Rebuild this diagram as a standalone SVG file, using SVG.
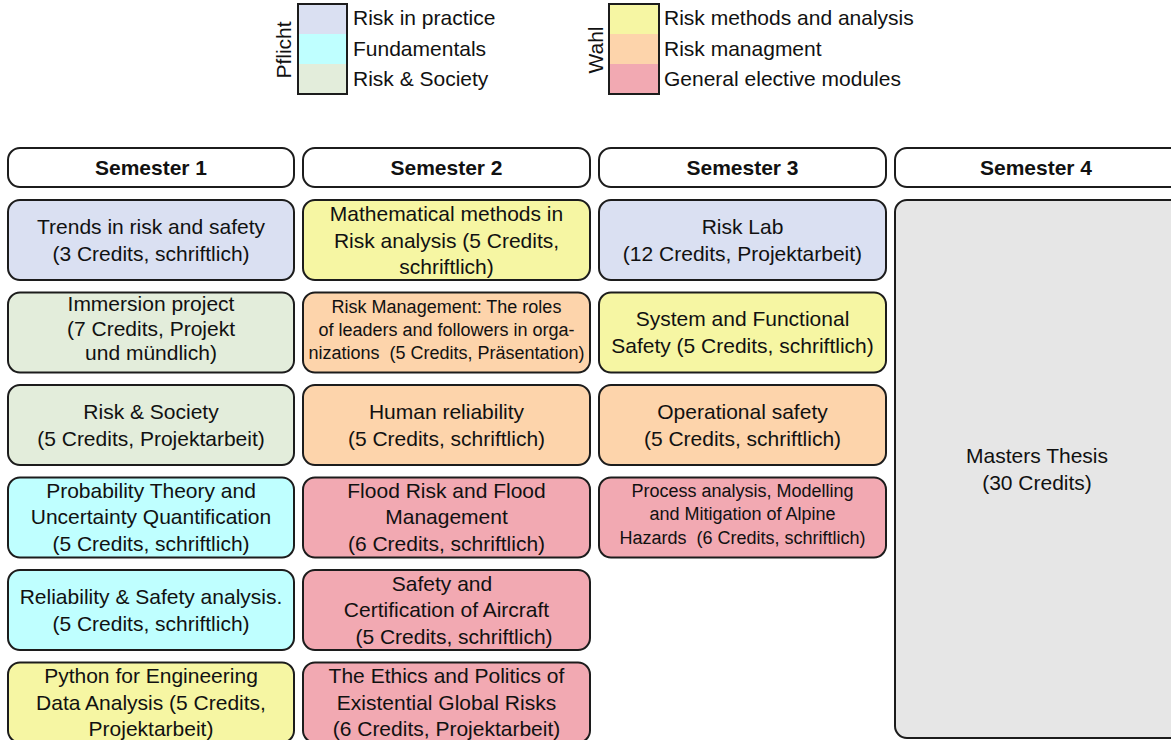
<svg xmlns="http://www.w3.org/2000/svg" width="1171" height="740" viewBox="0 0 1171 740">
  <style>
    .box { stroke: #1c1c1c; stroke-width: 2; }
    .hdr { fill: #ffffff; stroke: #1c1c1c; stroke-width: 2; }
    text { font-family: "Liberation Sans", Arial, sans-serif; fill: #111111; }
    .t { font-size: 21px; text-anchor: middle; }
    .s { font-size: 18px; text-anchor: middle; }
    .h { font-size: 21px; font-weight: bold; text-anchor: middle; }
    .lg { font-size: 21px; }
    .practice { fill: #dae0f2; }
    .fund { fill: #bfffff; }
    .society { fill: #e3eddb; }
    .methods { fill: #f6f6a3; }
    .mgmt { fill: #fdd4ab; }
    .elective { fill: #f2a9b2; }
    .thesis { fill: #e6e6e6; }
  </style>

  <!-- Legend: compulsory -->
  <g id="legend-pflicht">
    <rect class="practice" x="298" y="4" width="49" height="30"/>
    <rect class="fund" x="298" y="34" width="49" height="30"/>
    <rect class="society" x="298" y="64" width="49" height="30"/>
    <rect x="298" y="4" width="49" height="90" fill="none" stroke="#1c1c1c" stroke-width="2"/>
    <text class="lg" transform="translate(291,50) rotate(-90)" text-anchor="middle">Pflicht</text>
    <text class="lg" x="353" y="25">Risk in practice</text>
    <text class="lg" x="353" y="56">Fundamentals</text>
    <text class="lg" x="353" y="86">Risk &amp; Society</text>
  </g>

  <!-- Legend: electives -->
  <g id="legend-wahl">
    <rect class="methods" x="609" y="4" width="50" height="30"/>
    <rect class="mgmt" x="609" y="34" width="50" height="30"/>
    <rect class="elective" x="609" y="64" width="50" height="30"/>
    <rect x="609" y="4" width="50" height="90" fill="none" stroke="#1c1c1c" stroke-width="2"/>
    <text class="lg" transform="translate(603,50) rotate(-90)" text-anchor="middle">Wahl</text>
    <text class="lg" x="664" y="25">Risk methods and analysis</text>
    <text class="lg" x="664" y="56">Risk managment</text>
    <text class="lg" x="664" y="86">General elective modules</text>
  </g>

  <!-- Semester headers -->
  <g id="sem1">
    <rect class="hdr" x="8" y="148" width="286" height="39" rx="12"/>
    <text class="h" x="151" y="175">Semester 1</text>
  </g>
  <g id="sem2">
    <rect class="hdr" x="303" y="148" width="287" height="39" rx="12"/>
    <text class="h" x="446.5" y="175">Semester 2</text>
  </g>
  <g id="sem3">
    <rect class="hdr" x="599" y="148" width="287" height="39" rx="12"/>
    <text class="h" x="742.5" y="175">Semester 3</text>
  </g>
  <g id="sem4">
    <rect class="hdr" x="895" y="148" width="287" height="39" rx="12"/>
    <text class="h" x="1036" y="175">Semester 4</text>
  </g>

  <!-- Semester 1 modules -->
  <g id="trends">
    <rect class="box practice" x="8" y="200" width="286" height="80" rx="12"/>
    <text class="t" x="151" y="233.5">Trends in risk and safety</text>
    <text class="t" x="151" y="260.5">(3 Credits, schriftlich)</text>
  </g>
  <g id="immersion">
    <rect class="box society" x="8" y="292.5" width="286" height="80" rx="12"/>
    <text class="t" x="151" y="311">Immersion project</text>
    <text class="t" x="151" y="336">(7 Credits, Projekt</text>
    <text class="t" x="151" y="360">und mündlich)</text>
  </g>
  <g id="risk-society">
    <rect class="box society" x="8" y="385" width="286" height="80" rx="12"/>
    <text class="t" x="151" y="418.5">Risk &amp; Society</text>
    <text class="t" x="151" y="445.5">(5 Credits, Projektarbeit)</text>
  </g>
  <g id="probability">
    <rect class="box fund" x="8" y="477.5" width="286" height="80" rx="12"/>
    <text class="t" x="151" y="497.5">Probability Theory and</text>
    <text class="t" x="151" y="524">Uncertainty Quantification</text>
    <text class="t" x="151" y="550.5">(5 Credits, schriftlich)</text>
  </g>
  <g id="reliability-safety">
    <rect class="box fund" x="8" y="570" width="286" height="80" rx="12"/>
    <text class="t" x="151" y="603.5">Reliability &amp; Safety analysis.</text>
    <text class="t" x="151" y="630.5">(5 Credits, schriftlich)</text>
  </g>
  <g id="python">
    <rect class="box methods" x="8" y="662.5" width="286" height="80" rx="12"/>
    <text class="t" x="151" y="683">Python for Engineering</text>
    <text class="t" x="151" y="709.5">Data Analysis (5 Credits,</text>
    <text class="t" x="151" y="736">Projektarbeit)</text>
  </g>

  <!-- Semester 2 modules -->
  <g id="math-methods">
    <rect class="box methods" x="303" y="200" width="287" height="80" rx="12"/>
    <text class="t" x="446.5" y="221">Mathematical methods in</text>
    <text class="t" x="446.5" y="247.5">Risk analysis (5 Credits,</text>
    <text class="t" x="446.5" y="274">schriftlich)</text>
  </g>
  <g id="risk-management">
    <rect class="box mgmt" x="303" y="292.5" width="287" height="80" rx="12"/>
    <text class="s" x="446.5" y="313">Risk Management: The roles</text>
    <text class="s" x="446.5" y="336">of leaders and followers in orga-</text>
    <text class="s" x="446.5" y="359" xml:space="preserve">nizations  (5 Credits, Präsentation)</text>
  </g>
  <g id="human-reliability">
    <rect class="box mgmt" x="303" y="385" width="287" height="80" rx="12"/>
    <text class="t" x="446.5" y="418.5">Human reliability</text>
    <text class="t" x="446.5" y="445.5">(5 Credits, schriftlich)</text>
  </g>
  <g id="flood-risk">
    <rect class="box elective" x="303" y="477.5" width="287" height="80" rx="12"/>
    <text class="t" x="446.5" y="497.5">Flood Risk and Flood</text>
    <text class="t" x="446.5" y="524">Management</text>
    <text class="t" x="446.5" y="550.5">(6 Credits, schriftlich)</text>
  </g>
  <g id="aircraft">
    <rect class="box elective" x="303" y="570" width="287" height="80" rx="12"/>
    <text class="t" x="442" y="590.5">Safety and</text>
    <text class="t" x="446.5" y="617">Certification of Aircraft</text>
    <text class="t" x="454" y="643.5">(5 Credits, schriftlich)</text>
  </g>
  <g id="ethics">
    <rect class="box elective" x="303" y="662.5" width="287" height="80" rx="12"/>
    <text class="t" x="446.5" y="683">The Ethics and Politics of</text>
    <text class="t" x="446.5" y="709.5">Existential Global Risks</text>
    <text class="t" x="446.5" y="736">(6 Credits, Projektarbeit)</text>
  </g>

  <!-- Semester 3 modules -->
  <g id="risk-lab">
    <rect class="box practice" x="599" y="200" width="287" height="80" rx="12"/>
    <text class="t" x="742.5" y="233.5">Risk Lab</text>
    <text class="t" x="742.5" y="260.5">(12 Credits, Projektarbeit)</text>
  </g>
  <g id="functional-safety">
    <rect class="box methods" x="599" y="292.5" width="287" height="80" rx="12"/>
    <text class="t" x="742.5" y="326">System and Functional</text>
    <text class="t" x="742.5" y="353">Safety (5 Credits, schriftlich)</text>
  </g>
  <g id="operational-safety">
    <rect class="box mgmt" x="599" y="385" width="287" height="80" rx="12"/>
    <text class="t" x="742.5" y="418.5">Operational safety</text>
    <text class="t" x="742.5" y="445.5">(5 Credits, schriftlich)</text>
  </g>
  <g id="alpine-hazards">
    <rect class="box elective" x="599" y="477.5" width="287" height="80" rx="12"/>
    <text class="s" x="742.5" y="497">Process analysis, Modelling</text>
    <text class="s" x="742.5" y="520">and Mitigation of Alpine</text>
    <text class="s" x="742.5" y="544" xml:space="preserve">Hazards  (6 Credits, schriftlich)</text>
  </g>

  <!-- Semester 4 -->
  <g id="thesis">
    <rect class="box thesis" x="895" y="200" width="287" height="538" rx="12"/>
    <text class="t" x="1037" y="462.5">Masters Thesis</text>
    <text class="t" x="1037" y="489.5">(30 Credits)</text>
  </g>

  <!-- No connectors in this chart -->
  <g id="connectors"/>
</svg>
